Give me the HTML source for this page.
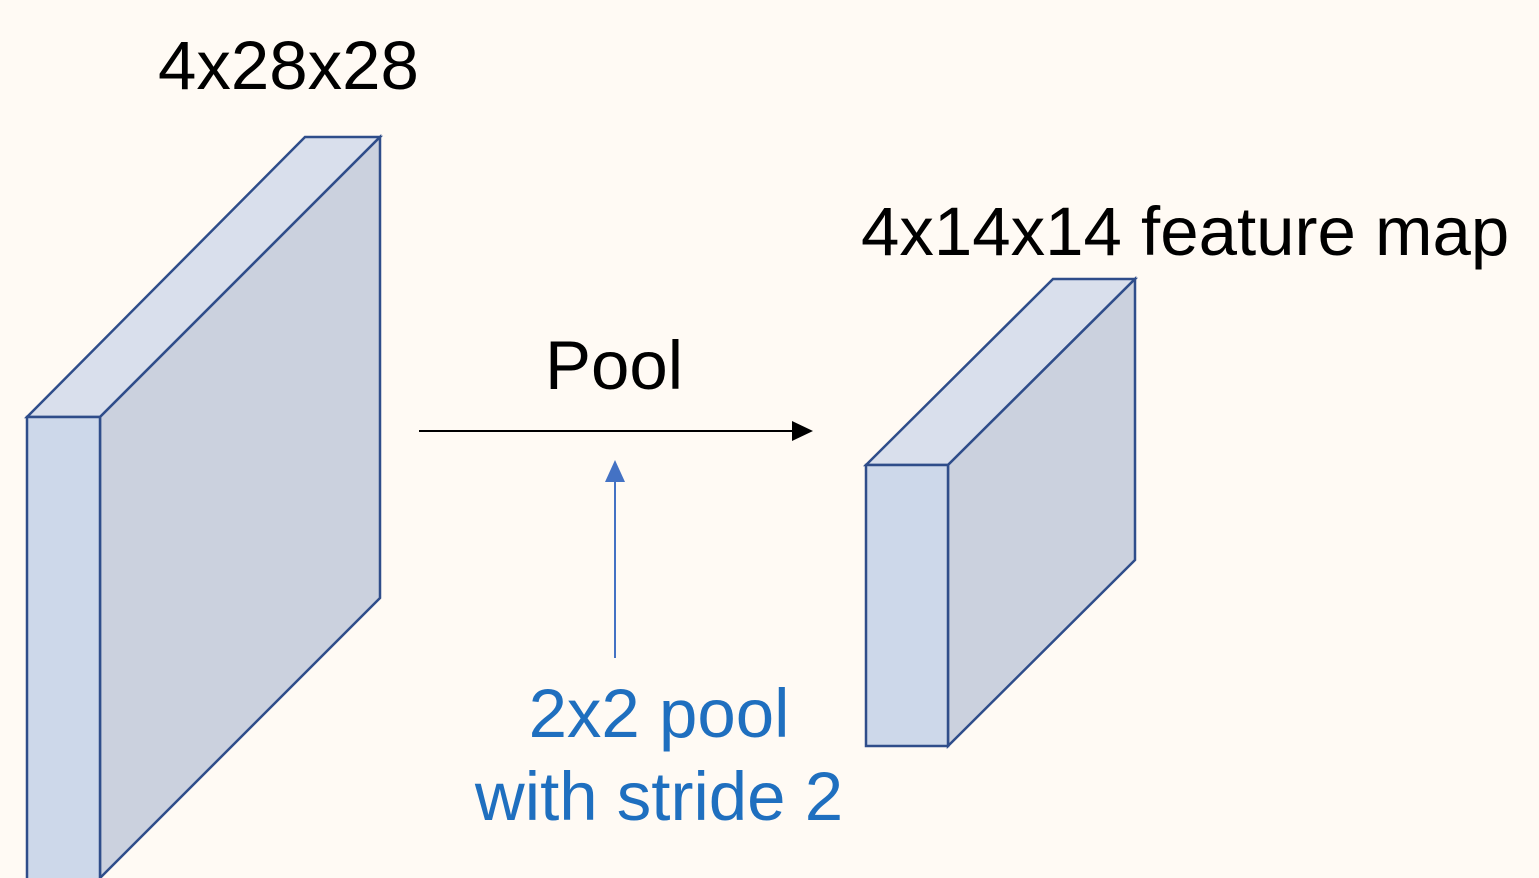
<!DOCTYPE html>
<html>
<head>
<meta charset="utf-8">
<style>
  html, body { margin:0; padding:0; background:#fffaf4; }
  svg { display:block; }
  text { font-family: "Liberation Sans", sans-serif; }
</style>
</head>
<body>
<svg width="1539" height="878" viewBox="0 0 1539 878">
  <rect x="0" y="0" width="1539" height="878" fill="#fffaf4"/>

  <g stroke="#2f4d8a" stroke-width="2.5" stroke-linejoin="miter">
    <polygon points="27,417 305,137 380,137 100,417" fill="#d9dfec"/>
    <polygon points="100,417 380,137 380,598 100,878" fill="#cbd1de"/>
    <polygon points="27,417 100,417 100,880 27,880" fill="#cdd8ea"/>
  </g>
  <text x="158" y="89" font-size="69" fill="#000">4x28x28</text>

  <g stroke="#2f4d8a" stroke-width="2.5" stroke-linejoin="miter">
    <polygon points="866,465 1053,279 1135,279 948,465" fill="#d9dfec"/>
    <polygon points="948,465 1135,279 1135,560 948,746" fill="#cbd1de"/>
    <polygon points="866,465 948,465 948,746 866,746" fill="#cdd8ea"/>
  </g>
  <text x="861" y="255" font-size="69" fill="#000">4x14x14 feature map</text>

  <text x="545" y="389" font-size="69" fill="#000">Pool</text>
  <g>
    <line x1="419" y1="431" x2="795" y2="431" stroke="#000" stroke-width="2"/>
    <polygon points="792,421 813,431 792,441" fill="#000"/>
  </g>

  <g>
    <line x1="615" y1="658" x2="615" y2="478" stroke="#4472c4" stroke-width="2"/>
    <polygon points="605,482 615,460 625,482" fill="#4472c4"/>
  </g>
  <text x="659" y="737" font-size="69" fill="#1f6fbf" text-anchor="middle">2x2 pool</text>
  <text x="659" y="820" font-size="69" fill="#1f6fbf" text-anchor="middle">with stride 2</text>
</svg>
</body>
</html>
